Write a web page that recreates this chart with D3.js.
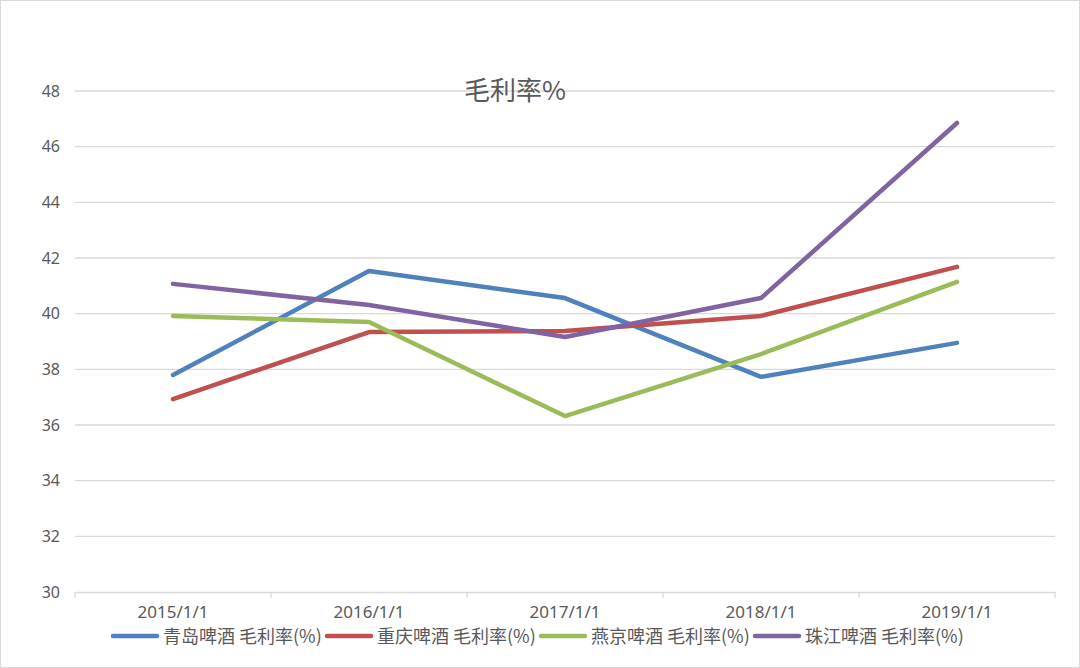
<!DOCTYPE html>
<html><head><meta charset="utf-8">
<script src="https://cdn.jsdelivr.net/npm/d3@7"></script>
<style>body{margin:0;background:#fff;} svg{display:block;}</style>
</head><body>
<svg id="c" width="1080" height="668"></svg>
<script>
const categories = ["2015/1/1","2016/1/1","2017/1/1","2018/1/1","2019/1/1"];
const seriesNames = ["青岛啤酒 毛利率(%)","重庆啤酒 毛利率(%)","燕京啤酒 毛利率(%)","珠江啤酒 毛利率(%)"];
const qingdao = [37.80, 41.53, 40.56, 37.73, 38.95];
const chongqing = [36.93, 39.34, 39.38, 39.92, 41.68];
const yanjing = [39.92, 39.70, 36.32, 38.55, 41.14];
const zhujiang = [41.07, 40.31, 39.16, 40.56, 46.85];
const yTicks = [30,32,34,36,38,40,42,44,46,48];
const colors = ["#4F81BD","#C0504D","#9BBB59","#8064A2"];
const title = "毛利率%";

const svg = d3.select("#c");
svg.append("rect").attr("x",0.5).attr("y",0.5).attr("width",1079).attr("height",667)
  .attr("fill","#fff").attr("stroke","#d9d9d9");

const L=75, R=1055, T=91, B=592;
const x = d3.scaleBand().domain(categories).range([L,R]);
const y = d3.scaleLinear().domain([30,48]).range([B,T]);

// gridlines
svg.append("g").selectAll("line").data(yTicks.filter(d=>d!==30)).join("line")
  .attr("x1",L).attr("x2",R).attr("y1",d=>y(d)).attr("y2",d=>y(d))
  .attr("stroke","#d9d9d9").attr("stroke-width",1.3);

// y axis labels
const yAxis = d3.axisLeft(y).tickValues(yTicks).tickSize(0).tickPadding(15);
const gy = svg.append("g").attr("transform",`translate(${L},0)`).call(yAxis);
gy.select(".domain").remove();
gy.selectAll("text").attr("font-family","'Noto Sans', sans-serif").attr("font-size",16).attr("fill","#595959");

// x axis
const gx = svg.append("g").attr("transform",`translate(0,${B})`)
  .call(d3.axisBottom(x).tickSize(0).tickPadding(14));
gx.select(".domain").attr("stroke","#d9d9d9").attr("stroke-width",1.3);
gx.selectAll("text").attr("font-family","'Noto Sans', sans-serif").attr("font-size",17).attr("fill","#595959");
const bounds = categories.map(c=>x(c)).concat([R]);
gx.append("g").selectAll("line").data(bounds).join("line")
  .attr("x1",d=>d).attr("x2",d=>d).attr("y1",0).attr("y2",6)
  .attr("stroke","#d9d9d9").attr("stroke-width",1.3);

// title
svg.append("text").attr("x",515).attr("y",100).attr("text-anchor","middle")
  .attr("font-family","'Noto Sans CJK SC', sans-serif").attr("font-size",26).attr("fill","#595959")
  .text(title);

// lines
const data = [qingdao, chongqing, yanjing, zhujiang];
const line = d3.line().x((d,i)=>x(categories[i])+x.bandwidth()/2).y(d=>y(d));
svg.append("g").selectAll("path").data(data).join("path")
  .attr("d",line).attr("fill","none").attr("stroke",(d,i)=>colors[i])
  .attr("stroke-width",4.5).attr("stroke-linejoin","round").attr("stroke-linecap","round");

// legend
const lg = svg.append("g").selectAll("g").data(seriesNames).join("g")
  .attr("transform",(d,i)=>`translate(${113+i*214},636)`);
lg.append("line").attr("x1",0).attr("x2",44).attr("y1",0).attr("y2",0)
  .attr("stroke",(d,i)=>colors[i]).attr("stroke-width",4.5).attr("stroke-linecap","round");
lg.append("text").attr("x",50).attr("y",7)
  .attr("font-family","'Noto Sans CJK SC', sans-serif").attr("font-size",18).attr("fill","#595959")
  .text(d=>d);
</script>
</body></html>
